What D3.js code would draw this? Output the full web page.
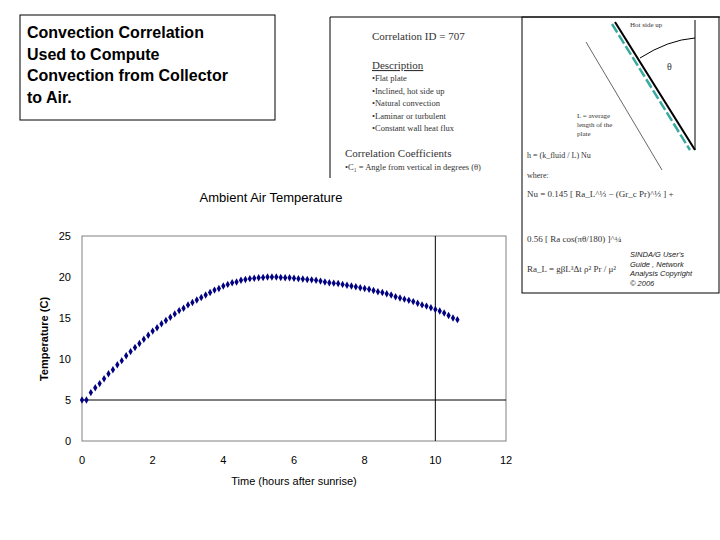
<!DOCTYPE html><html><head><meta charset="utf-8"><script src="https://cdn.jsdelivr.net/npm/d3@7"></script>
<style>body{margin:0;background:#fff}svg{font-family:Arial,"Liberation Sans",sans-serif}</style></head><body><svg id="c" width="720" height="540"></svg>
<script>
const times=[0,0.125,0.25,0.375,0.5,0.625,0.75,0.875,1,1.125,1.25,1.375,1.5,1.625,1.75,1.875,2,2.125,2.25,2.375,2.5,2.625,2.75,2.875,3,3.125,3.25,3.375,3.5,3.625,3.75,3.875,4,4.125,4.25,4.375,4.5,4.625,4.75,4.875,5,5.125,5.25,5.375,5.5,5.625,5.75,5.875,6,6.125,6.25,6.375,6.5,6.625,6.75,6.875,7,7.125,7.25,7.375,7.5,7.625,7.75,7.875,8,8.125,8.25,8.375,8.5,8.625,8.75,8.875,9,9.125,9.25,9.375,9.5,9.625,9.75,9.875,10,10.125,10.25,10.375,10.5,10.625];
const temps=[5.0,5.0,5.9,6.5,7.0,7.6,8.2,8.7,9.3,9.8,10.4,10.9,11.4,11.9,12.4,12.9,13.4,13.8,14.3,14.7,15.1,15.5,15.9,16.2,16.6,16.9,17.2,17.5,17.8,18.1,18.4,18.6,18.9,19.1,19.3,19.4,19.6,19.7,19.8,19.85,19.9,19.95,20.0,20.0,20.0,19.95,19.9,19.9,19.85,19.8,19.75,19.7,19.65,19.6,19.5,19.4,19.3,19.25,19.2,19.1,19.0,18.9,18.8,18.7,18.6,18.5,18.35,18.2,18.1,17.95,17.8,17.6,17.45,17.3,17.15,17.0,16.8,16.6,16.45,16.25,16.05,15.85,15.6,15.3,15.0,14.8];
const xTicks=[0,2,4,6,8,10,12];
const yTicks=[0,5,10,15,20,25];
const descLines=["•Flat plate","•Inclined, hot side up","•Natural convection","•Laminar or turbulent","•Constant wall heat flux"];
const svg=d3.select("#c");

// right pasted figure
svg.append("line").attr("x1",330).attr("x2",330).attr("y1",17).attr("y2",178).attr("stroke","#000");
svg.append("line").attr("x1",330).attr("x2",720).attr("y1",17).attr("y2",17).attr("stroke","#000");
svg.append("rect").attr("x",522).attr("y",17).attr("width",197).attr("height",276).attr("fill","none").attr("stroke","#000");
svg.append("rect").attr("x",331).attr("y",18).attr("width",190).attr("height",160).attr("fill","#fff");
const f=svg.append("g").attr("font-family","Liberation Serif,serif").attr("fill","#333");
f.append("text").attr("x",372).attr("y",40).attr("font-size",11).text("Correlation ID = 707");
f.append("text").attr("x",372).attr("y",69).attr("font-size",11).attr("text-decoration","underline").text("Description");
descLines.forEach((t,i)=>f.append("text").attr("x",372).attr("y",81+i*12.5).attr("font-size",8.5).text(t));
f.append("text").attr("x",345).attr("y",157).attr("font-size",11).text("Correlation Coefficients");
f.append("text").attr("x",345).attr("y",170).attr("font-size",8.5).text("•C₁ = Angle from vertical in degrees (θ)");
// plate sketch
const pl=svg.append("g");
pl.append("line").attr("x1",615).attr("y1",22).attr("x2",695).attr("y2",150).attr("stroke","#000").attr("stroke-width",2);
pl.append("line").attr("x1",612).attr("y1",24).attr("x2",690).attr("y2",150).attr("stroke","#3aa99f").attr("stroke-width",2.5).attr("stroke-dasharray","10,3");
pl.append("line").attr("x1",695).attr("y1",20).attr("x2",695).attr("y2",150).attr("stroke","#000");
pl.append("path").attr("d","M640,58 Q668,40 695,38").attr("fill","none").attr("stroke","#000");
pl.append("line").attr("x1",586).attr("y1",42).attr("x2",662).attr("y2",170).attr("stroke","#000").attr("stroke-width",0.6);
f.append("text").attr("x",630).attr("y",27).attr("font-size",7).text("Hot side up");
f.append("text").attr("x",667).attr("y",70).attr("font-size",10).text("θ");
["L = average","length of the","plate"].forEach((t,i)=>f.append("text").attr("x",577).attr("y",118+i*9).attr("font-size",7).text(t));
f.append("text").attr("x",527).attr("y",158).attr("font-size",8).text("h = (k_fluid / L) Nu");
f.append("text").attr("x",527).attr("y",178).attr("font-size",8).text("where:");
f.append("text").attr("x",527).attr("y",197).attr("font-size",9).text("Nu = 0.145 [ Ra_L^⅓ − (Gr_c Pr)^⅓ ] +");
f.append("text").attr("x",527).attr("y",242).attr("font-size",9).text("0.56 [ Ra cos(πθ/180) ]^¼");
f.append("text").attr("x",527).attr("y",272).attr("font-size",9).text("Ra_L = gβL³Δt ρ² Pr / μ²");
const cr=svg.append("g").attr("font-size",7.5).attr("font-style","italic").attr("fill","#222");
["SINDA/G User's","Guide , Network","Analysis Copyright","© 2006"].forEach((t,i)=>cr.append("text").attr("x",630).attr("y",257+i*9.5).text(t));

// title box
svg.append("rect").attr("x",20).attr("y",15).attr("width",255).attr("height",105).attr("fill","#fff").attr("stroke","#000");
["Convection Correlation","Used to Compute","Convection from Collector","to Air."].forEach((t,i)=>svg.append("text").attr("x",27).attr("y",38+i*21.5).attr("font-size",16).attr("font-weight","bold").attr("fill","#000").text(t));

// chart
const x=d3.scaleLinear().domain([0,12]).range([82,506]);
const y=d3.scaleLinear().domain([0,25]).range([441,236]);
svg.append("rect").attr("x",82).attr("y",236).attr("width",424).attr("height",205).attr("fill","#fff").attr("stroke","#808080");
svg.append("line").attr("x1",x(0)).attr("x2",x(12)).attr("y1",y(5)).attr("y2",y(5)).attr("stroke","#000");
svg.append("line").attr("x1",x(10)).attr("x2",x(10)).attr("y1",y(0)).attr("y2",y(25)).attr("stroke","#000");
svg.append("g").selectAll("text").data(xTicks).join("text").attr("x",d=>x(d)).attr("y",464).attr("text-anchor","middle").attr("font-size",11).text(d=>d);
svg.append("g").selectAll("text").data(yTicks).join("text").attr("x",71).attr("y",d=>y(d)+4).attr("text-anchor","end").attr("font-size",11).text(d=>d);
svg.append("text").attr("x",271).attr("y",202).attr("text-anchor","middle").attr("font-size",13).text("Ambient Air Temperature");
svg.append("text").attr("x",294).attr("y",485).attr("text-anchor","middle").attr("font-size",11).text("Time (hours after sunrise)");
svg.append("text").attr("transform","translate(48,339) rotate(-90)").attr("text-anchor","middle").attr("font-size",11).attr("font-weight","bold").text("Temperature (C)");
const sym=d3.symbol().type(d3.symbolDiamond).size(16);
svg.append("g").selectAll("path").data(times.map((t,i)=>[t,temps[i]])).join("path").attr("d",sym).attr("transform",d=>`translate(${x(d[0])},${y(d[1])})`).attr("fill","#000080");
</script></body></html>
